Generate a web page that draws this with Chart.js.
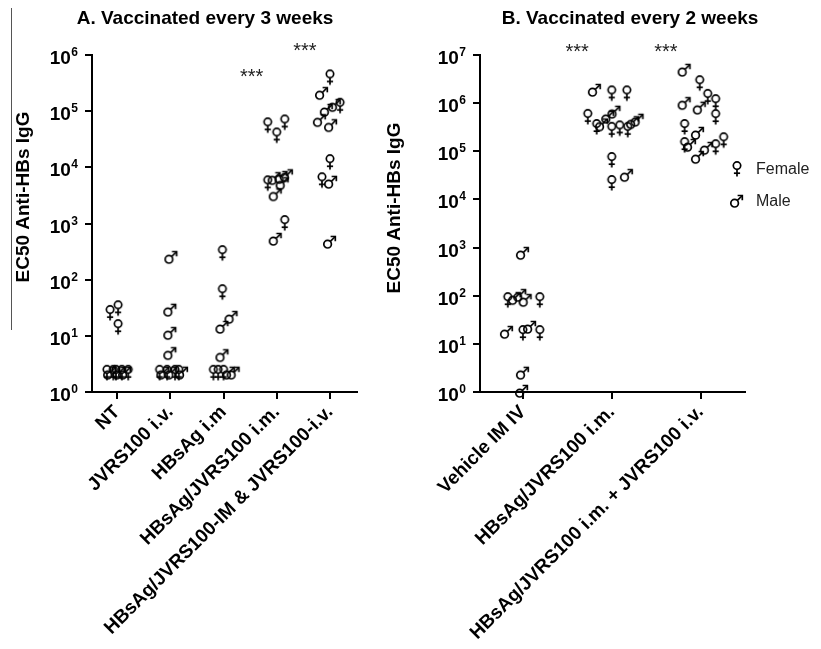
<!DOCTYPE html>
<html><head><meta charset="utf-8">
<script src="https://cdn.jsdelivr.net/npm/chart.js@4"></script>
<style>
html,body{margin:0;padding:0;background:#fff;width:821px;height:649px;overflow:hidden;}
#wa{position:absolute;left:0;top:0;width:380px;height:649px;}
#wb{position:absolute;left:380px;top:0;width:441px;height:649px;}
</style></head><body>
<div id="wa"><canvas id="ca" width="380" height="649"></canvas></div>
<div id="wb"><canvas id="cb" width="441" height="649"></canvas></div>
<script>
// ---------- Panel A: vaccinated every 3 weeks ----------
const categoriesA = ['NT', 'JVRS100 i.v.', 'HBsAg i.m', 'HBsAg/JVRS100 i.m.', 'HBsAg/JVRS100-IM & JVRS100-i.v.'];
const yTicksA = [1, 10, 100, 1000, 10000, 100000, 1000000];

const a0_values = [25.6, 31, 14.3, 2.2, 2.2, 2.2, 2.2, 2.2, 2.2, 2.2, 2.2];
const a0_sex    = ['F','F','F','F','M','F','F','M','F','M','F'];
const a0_jitter = [-0.13, 0.02, 0.02, -0.19, -0.13, -0.07, -0.02, 0.04, 0.09, 0.15, 0.21];

const a1_values = [252, 29, 11.2, 4.9, 2.2, 2.2, 2.2, 2.2, 2.2, 2.2, 2.2];
const a1_sex    = ['M','M','M','M','F','M','F','M','F','F','M'];
const a1_jitter = [0.02, 0, 0, 0, -0.2, -0.13, -0.06, 0.02, 0.09, 0.16, 0.22];

const a2_values = [297, 60, 14.4, 21.6, 4.5, 2.2, 2.2, 2.2, 2.2, 2.2];
const a2_sex    = ['F','F','M','M','M','F','F','F','M','M'];
const a2_jitter = [-0.02, -0.02, -0.02, 0.15, -0.02, -0.19, -0.1, 0, 0.1, 0.19];

const a3_values = [56000, 63000, 37000, 5200, 6400, 6700, 7200, 5200, 3300, 1020, 530];
const a3_sex    = ['F','F','F','F','M','M','M','M','M','F','M'];
const a3_jitter = [-0.17, 0.15, 0, -0.17, -0.04, 0.09, 0.19, 0.11, -0.02, 0.15, -0.02];

const a4_values = [400000, 210000, 128000, 125000, 105000, 69000, 56000, 12400, 5900, 5500, 470];
const a4_sex    = ['F','M','M','F','M','M','M','F','F','M','M'];
const a4_jitter = [0, -0.15, 0.09, 0.19, -0.06, -0.19, 0.02, 0, -0.15, 0.02, 0];

// ---------- Panel B: vaccinated every 2 weeks ----------
const categoriesB = ['Vehicle IM IV', 'HBsAg/JVRS100 i.m.', 'HBsAg/JVRS100 i.m. + JVRS100 i.v.'];
const yTicksB = [1, 10, 100, 1000, 10000, 100000, 1000000, 10000000];

const b0_values = [770, 81, 89, 103, 81, 81, 17.6, 16.8, 22.4, 16.8, 2.5, 1.05];
const b0_sex    = ['M','F','M','M','M','F','M','F','M','F','M','M'];
const b0_jitter = [0, -0.17, -0.09, -0.03, 0.03, 0.19, -0.18, 0, 0.08, 0.19, 0, -0.01];

const b1_values = [1880000, 1600000, 1600000, 520000, 320000, 360000, 520000, 660000, 280000, 300000, 280000, 400000, 450000, 66000, 22000, 32000];
const b1_sex    = ['M','F','F','F','F','M','M','M','F','F','F','M','M','F','F','M'];
const b1_jitter = [-0.19, 0, 0.17, -0.27, -0.17, -0.11, -0.04, 0.03, 0, 0.09, 0.18, 0.24, 0.29, 0, 0, 0.17];

const b2_values = [4900000, 2600000, 1000000, 800000, 1350000, 1050000, 515000, 320000, 240000, 135000, 135000, 76000, 117000, 122000, 170000];
const b2_sex    = ['M','F','M','M','F','F','F','F','M','F','M','M','M','F','F'];
const b2_jitter = [-0.18, -0.01, -0.18, -0.01, 0.08, 0.17, 0.17, -0.18, -0.03, -0.18, -0.12, -0.03, 0.07, 0.17, 0.26];

// significance marks (category position, value)
const starsA = [{x: 2.53, y: Math.pow(10, 5.69)}, {x: 3.53, y: Math.pow(10, 6.16)}];
const starsB = [{x: 0.61, y: Math.pow(10, 7.17)}, {x: 1.61, y: Math.pow(10, 7.17)}];

// ---------- symbols ----------
function makeSymbol(sex) {
  const c = document.createElement('canvas');
  c.width = 18; c.height = 18;
  const g = c.getContext('2d');
  g.strokeStyle = '#000'; g.lineWidth = 1.7; g.lineCap = 'butt';
  if (sex === 'F') {
    g.beginPath(); g.arc(9, 5.6, 3.7, 0, Math.PI * 2); g.stroke();
    g.beginPath(); g.moveTo(9, 9.3); g.lineTo(9, 16.4); g.stroke();
    g.beginPath(); g.moveTo(5.9, 13.2); g.lineTo(12.1, 13.2); g.stroke();
  } else {
    g.beginPath(); g.arc(6.6, 11.2, 3.8, 0, Math.PI * 2); g.stroke();
    g.beginPath(); g.moveTo(9.4, 8.4); g.lineTo(14.3, 3.5); g.stroke();
    g.beginPath(); g.moveTo(9.6, 3.5); g.lineTo(14.3, 3.5); g.lineTo(14.3, 8.2); g.stroke();
  }
  return c;
}
const femaleImg = makeSymbol('F');
const maleImg = makeSymbol('M');

function buildPoints(groups) {
  const F = [], M = [];
  groups.forEach((grp, i) => {
    grp[0].forEach((v, j) => {
      const p = {x: i + grp[2][j], y: v};
      (grp[1][j] === 'F' ? F : M).push(p);
    });
  });
  return {F, M};
}

const ptsA = buildPoints([
  [a0_values, a0_sex, a0_jitter], [a1_values, a1_sex, a1_jitter], [a2_values, a2_sex, a2_jitter],
  [a3_values, a3_sex, a3_jitter], [a4_values, a4_sex, a4_jitter]]);
const ptsB = buildPoints([
  [b0_values, b0_sex, b0_jitter], [b1_values, b1_sex, b1_jitter], [b2_values, b2_sex, b2_jitter]]);

const FONT = 'Liberation Sans, Arial, Helvetica, sans-serif';

function decorPlugin(cfg) {
  return {
    id: 'decor',
    afterDraw(chart) {
      const ctx = chart.ctx;
      const ys = chart.scales.y, xs = chart.scales.x;
      const ox = cfg.offsetX;
      ctx.save();
      ctx.fillStyle = '#000';
      // y tick labels 10^n
      cfg.yTicks.forEach(v => {
        const py = ys.getPixelForValue(v);
        const exp = String(Math.round(Math.log10(v)));
        ctx.font = 'bold 12px ' + FONT;
        const ew = ctx.measureText(exp).width;
        ctx.textAlign = 'left'; ctx.textBaseline = 'alphabetic';
        ctx.fillText(exp, cfg.labelRight - ox - ew, py + 1);
        ctx.font = 'bold 19px ' + FONT;
        ctx.textAlign = 'right';
        ctx.fillText('10', cfg.labelRight - ox - ew - 0.5, py + 9);
      });
      // y title
      ctx.save();
      ctx.translate(cfg.yTitleX - ox, cfg.yTitleY);
      ctx.rotate(-Math.PI / 2);
      ctx.font = 'bold 19px ' + FONT;
      ctx.textAlign = 'center'; ctx.textBaseline = 'middle';
      ctx.fillText('EC50 Anti-HBs IgG', 0, 0);
      ctx.restore();
      // title
      ctx.font = 'bold 19px ' + FONT;
      ctx.textAlign = 'center'; ctx.textBaseline = 'middle';
      ctx.fillText(cfg.title, cfg.titleX - ox, 19);
      // stars
      ctx.font = '20px ' + FONT;
      ctx.fillStyle = '#222';
      ctx.textBaseline = 'alphabetic';
      cfg.stars.forEach(s => {
        ctx.fillText('***', xs.getPixelForValue(s.x), ys.getPixelForValue(s.y) + 11);
      });
      // left rule
      if (cfg.leftRule) {
        ctx.strokeStyle = '#555'; ctx.lineWidth = 1;
        ctx.beginPath(); ctx.moveTo(11.5, 8); ctx.lineTo(11.5, 330); ctx.stroke();
      }
      // legend
      if (cfg.legend) {
        ctx.drawImage(femaleImg, 737 - ox - 9, 169 - 9);
        ctx.drawImage(maleImg, 737 - ox - 9, 201 - 9);
        ctx.fillStyle = '#222';
        ctx.font = '16px ' + FONT;
        ctx.textAlign = 'left'; ctx.textBaseline = 'middle';
        ctx.fillText('Female', 756 - ox, 170);
        ctx.fillText('Male', 756 - ox, 202);
      }
      ctx.restore();
    }
  };
}

function makeChart(el, cats, pts, cfg) {
  return new Chart(el, {
    type: 'scatter',
    data: {datasets: [
      {data: pts.F, pointStyle: femaleImg, clip: false, pointRadius: 9},
      {data: pts.M, pointStyle: maleImg, clip: false, pointRadius: 9}
    ]},
    options: {
      responsive: false, animation: false, devicePixelRatio: 1,
      layout: {padding: {top: 55, right: cfg.padRight, left: 0, bottom: 0}},
      plugins: {legend: {display: false}, tooltip: {enabled: false}, title: {display: false}},
      scales: {
        x: {
          type: 'linear', min: cfg.xmin, max: cfg.xmax,
          afterBuildTicks: ax => { ax.ticks = cats.map((c, i) => ({value: i})); },
          afterFit: s => { s.height = 649 - 392; },
          grid: {drawOnChartArea: false, drawTicks: true, tickLength: 7, color: '#000', lineWidth: 2},
          border: {display: true, color: '#000', width: 2},
          ticks: {autoSkip: false, minRotation: 45, maxRotation: 45, color: '#000', padding: 2,
            font: {family: FONT, size: 19, weight: 'bold'},
            callback: v => cats[Math.round(v)] ?? ''}
        },
        y: {
          type: 'logarithmic', min: 1, max: cfg.ymax,
          afterBuildTicks: ax => { ax.ticks = cfg.yTicks.map(v => ({value: v})); },
          afterFit: s => { s.width = cfg.yWidth; },
          grid: {drawOnChartArea: false, drawTicks: true, tickLength: 7, color: '#000', lineWidth: 2},
          border: {display: true, color: '#000', width: 2},
          ticks: {display: false}
        }
      }
    },
    plugins: [decorPlugin(cfg)]
  });
}

makeChart(document.getElementById('ca'), categoriesA, ptsA, {
  offsetX: 0, padRight: 23.4, xmin: -0.47, xmax: 4.5, ymax: 1000000, yWidth: 92,
  yTicks: yTicksA, labelRight: 78, yTitleX: 24, yTitleY: 197,
  title: 'A. Vaccinated every 3 weeks', titleX: 205, stars: starsA, leftRule: true, legend: false
});
makeChart(document.getElementById('cb'), categoriesB, ptsB, {
  offsetX: 380, padRight: 76, xmin: -0.483, xmax: 2.5, ymax: 10000000, yWidth: 100,
  yTicks: yTicksB, labelRight: 466, yTitleX: 395, yTitleY: 208,
  title: 'B. Vaccinated every 2 weeks', titleX: 630, stars: starsB, leftRule: false, legend: true
});
</script>
</body></html>
